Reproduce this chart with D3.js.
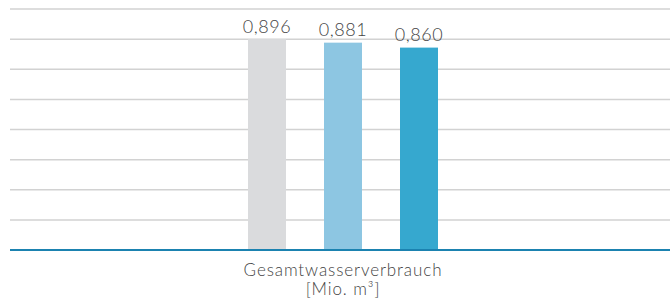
<!DOCTYPE html>
<html>
<head>
<meta charset="utf-8">
<script src="https://cdn.jsdelivr.net/npm/d3@7"></script>
<style>
  body { margin: 0; background: #fff; }
  svg { display: block; }
</style>
</head>
<body>
<div id="chart"></div>
<script>
// data
const categories = ['Gesamtwasserverbrauch'];
const unitLabel = '[Mio. m³]';
const series = ['A', 'B', 'C'];
const values = [0.896, 0.881, 0.860];
const colors = ['#dadbdd', '#8dc6e2', '#36a8cf'];
const gridTicks = [0, 0.128, 0.256, 0.384, 0.512, 0.64, 0.768, 0.896, 1.024];

const width = 670;
const height = 300;
const margin = { top: 9, right: -6, bottom: 50, left: 10 };
const innerW = width - margin.left - margin.right;
const innerH = height - margin.top - margin.bottom;

const svg = d3.select('#chart')
  .append('svg')
  .attr('width', width)
  .attr('height', height)
  .append('g')
  .attr('transform', `translate(${margin.left},${margin.top})`);

const y = d3.scaleLinear()
  .domain([0, 1.024])
  .range([innerH, 0]);

const x0 = d3.scaleBand()
  .domain(categories)
  .range([0, innerW]);

const x1 = d3.scaleBand()
  .domain(series)
  .range([x0.bandwidth() / 2 - 114, x0.bandwidth() / 2 + 114])
  .paddingInner(0.5)
  .paddingOuter(0.25);

// gridlines
svg.append('g')
  .selectAll('line')
  .data(gridTicks.slice(1))
  .enter()
  .append('line')
  .attr('x1', 0)
  .attr('x2', innerW)
  .attr('y1', (d) => y(d))
  .attr('y2', (d) => y(d))
  .attr('stroke', '#d2d2d2')
  .attr('stroke-width', 1.5);

const fmt = (v) => d3.format('.3f')(v).replace('.', ',');

const group = svg.append('g')
  .selectAll('g')
  .data(categories)
  .enter()
  .append('g')
  .attr('transform', (d) => `translate(${x0(d)},0)`);

group.selectAll('rect')
  .data(values.map((v, i) => ({ key: series[i], value: v, color: colors[i] })))
  .enter()
  .append('rect')
  .attr('x', (d) => x1(d.key))
  .attr('width', x1.bandwidth())
  .attr('y', (d) => y(d.value))
  .attr('height', (d) => innerH - y(d.value))
  .attr('fill', (d) => d.color);

group.selectAll('text.val')
  .data(values.map((v, i) => ({ key: series[i], value: v })))
  .enter()
  .append('text')
  .attr('class', 'val')
  .attr('x', (d) => x1(d.key) + x1.bandwidth() / 2)
  .attr('y', (d) => y(d.value) - 6.5)
  .attr('text-anchor', 'middle')
  .attr('font-family', 'Lato, sans-serif')
  .attr('font-weight', 300)
  .attr('font-size', 18)
  .attr('letter-spacing', 0.6)
  .attr('fill', '#444')
  .text((d) => fmt(d.value));

// baseline
svg.append('line')
  .attr('x1', 0)
  .attr('x2', innerW)
  .attr('y1', y(0))
  .attr('y2', y(0))
  .attr('stroke', '#1b82b0')
  .attr('stroke-width', 2);

// category label, two lines
const cx = x0(categories[0]) + x0.bandwidth() / 2;
svg.append('g')
  .selectAll('text')
  .data([categories[0], unitLabel])
  .enter()
  .append('text')
  .attr('text-anchor', 'middle')
  .attr('font-family', 'Lato, sans-serif')
  .attr('font-weight', 300)
  .attr('font-size', 17)
  .attr('letter-spacing', 0.9)
  .attr('fill', '#444')
  .attr('x', cx)
  .attr('y', (d, i) => innerH + 25.5 + i * 19.5)
  .text((d) => d);
</script>
</body>
</html>
